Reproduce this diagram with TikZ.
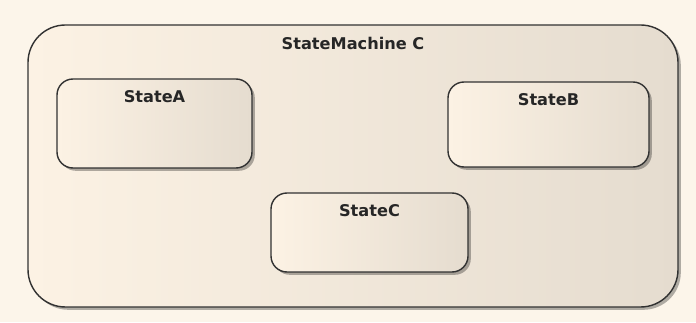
\documentclass[tikz,border=0pt]{standalone}
\usepackage{fontspec}
\setmainfont{DejaVu Sans}
\usepackage{tikz}
\usetikzlibrary{shadows}

\definecolor{bgcream}{RGB}{252,245,234}
\definecolor{fillLight}{RGB}{252,242,228}
\definecolor{fillDark}{RGB}{229,220,207}
\definecolor{edge}{RGB}{50,50,50}

\begin{document}
\begin{tikzpicture}[
  machine/.style={draw=edge, line width=0.8pt, rounded corners=0.75cm,
    left color=fillLight, right color=fillDark,
    drop shadow={shadow xshift=1.6pt, shadow yshift=-1.6pt, fill=black, opacity=0.3}},
  state/.style={draw=edge, line width=0.8pt, rounded corners=0.32cm,
    left color=fillLight, right color=fillDark,
    drop shadow={shadow xshift=1.6pt, shadow yshift=-1.6pt, fill=black, opacity=0.3}},
  title/.style={font=\fontsize{9.2}{11}\selectfont\bfseries, text=black!85, anchor=base},
]

% === canvas ===
\useasboundingbox[fill=bgcream] (0,0) rectangle (13.92,6.44);

% === container ===
\node[machine, minimum width=13.0cm, minimum height=5.64cm,
  label={[title, yshift=-0.50cm]north:StateMachine C}] (sm) at (7.06, 3.12) {};

% === states ===
\node[state, minimum width=3.90cm, minimum height=1.78cm,
  label={[title, yshift=-0.48cm]north:StateA}] (stA) at (3.09, 3.97) {};
\node[state, minimum width=4.02cm, minimum height=1.70cm,
  label={[title, yshift=-0.48cm]north:StateB}] (stB) at (10.97, 3.95) {};
\node[state, minimum width=3.94cm, minimum height=1.58cm,
  label={[title, yshift=-0.48cm]north:StateC}] (stC) at (7.39, 1.79) {};

\end{tikzpicture}
\end{document}
